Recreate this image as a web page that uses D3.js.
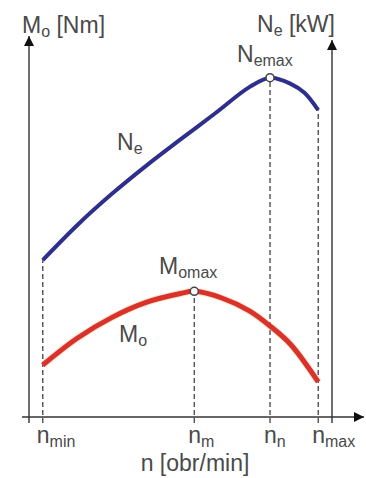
<!DOCTYPE html>
<html>
<head>
<meta charset="utf-8">
<script src="https://cdn.jsdelivr.net/npm/d3@7"></script>
<style>
  body { margin: 0; background: #fff; }
  svg { display: block; }
  text { font-family: "Liberation Sans", Arial, Helvetica, sans-serif; fill: #4a4a4a; }
</style>
</head>
<body>
<svg id="chart" width="366" height="478"></svg>
<script>
// Engine speed samples [rpm] and torque Mo [Nm]
const torqueSpeed = [800, 1300, 1800, 2300, 2800, 3000, 3400, 3800, 4100, 4400, 4800];
const torqueMo    = [41.4, 62.7, 79.1, 91.2, 98.3, 100, 94.7, 84.4, 72.4, 57.7, 27.9];

// Engine speed samples [rpm] and effective power Ne [kW]
const powerSpeed = [800, 1300, 1800, 2300, 2800, 3300, 3800, 4100, 4400, 4600, 4800];
const powerNe    = [33.3, 40.7, 47.3, 53.3, 58.9, 64.4, 70.0, 72.0, 70.7, 68.8, 65.1];

// Characteristic speeds marked on the n axis
const tickSpeeds = [800, 3000, 4100, 4800];
const tickSubs   = ["min", "m", "n", "max"];
const tickCurve  = ["Ne", "Mo", "Ne", "Ne"];   // curve each guide line rises to

const svg = d3.select("#chart");

const x   = d3.scaleLinear().domain([600, 5000]).range([29, 332]);
const yMo = d3.scaleLinear().domain([0, 300]).range([417, 40]);
const yNe = d3.scaleLinear().domain([0, 80]).range([417, 40]);

const torque = torqueSpeed.map((n, i) => ({ n, v: torqueMo[i] }));
const power  = powerSpeed.map((n, i) => ({ n, v: powerNe[i] }));

const defs = svg.append("defs");
defs.append("marker")
  .attr("id", "arrow").attr("viewBox", "0 0 10 10")
  .attr("refX", 10).attr("refY", 5)
  .attr("markerUnits", "userSpaceOnUse")
  .attr("markerWidth", 16).attr("markerHeight", 10)
  .attr("orient", "auto")
  .append("path").attr("d", "M0,0 L10,5 L0,10 Z").attr("fill", "#111");

const axisColor = "#333";
const y0 = yMo(0);
const below = 6;

// guide lines from each characteristic speed up to its curve
function valueAt(series, n) {
  const d = series.find(p => p.n === n);
  return d ? d.v : null;
}
tickSpeeds.forEach((n, i) => {
  const top = tickCurve[i] === "Ne" ? yNe(valueAt(power, n)) : yMo(valueAt(torque, n));
  svg.append("line")
    .attr("x1", x(n)).attr("x2", x(n))
    .attr("y1", y0 + below).attr("y2", top)
    .attr("stroke", "#444").attr("stroke-width", 1.3)
    .attr("stroke-dasharray", "5,3");
});

// axes
svg.append("line")
  .attr("x1", x(600)).attr("x2", x(600))
  .attr("y1", y0 + below).attr("y2", yMo(300) - 4)
  .attr("stroke", axisColor).attr("stroke-width", 1.4)
  .attr("marker-end", "url(#arrow)");
svg.append("line")
  .attr("x1", x(5000)).attr("x2", x(5000))
  .attr("y1", y0 + below).attr("y2", yNe(80))
  .attr("stroke", axisColor).attr("stroke-width", 1.4)
  .attr("marker-end", "url(#arrow)");
svg.append("line")
  .attr("x1", x(600) - 7).attr("x2", 364)
  .attr("y1", y0).attr("y2", y0)
  .attr("stroke", axisColor).attr("stroke-width", 1.4)
  .attr("marker-end", "url(#arrow)");

// curves
const lineMo = d3.line().x(d => x(d.n)).y(d => yMo(d.v)).curve(d3.curveCatmullRom.alpha(0.5));
const lineNe = d3.line().x(d => x(d.n)).y(d => yNe(d.v)).curve(d3.curveCatmullRom.alpha(0.5));

svg.append("path").datum(torque)
  .attr("d", lineMo).attr("fill", "none")
  .attr("stroke", "#f0b36a").attr("stroke-width", 7).attr("opacity", 0.35);
svg.append("path").datum(torque)
  .attr("d", lineMo).attr("fill", "none")
  .attr("stroke", "#d9312b").attr("stroke-width", 5);

svg.append("path").datum(power)
  .attr("d", lineNe).attr("fill", "none")
  .attr("stroke", "#2e2f8c").attr("stroke-width", 4);

// maximum markers
const moMax = torque[d3.maxIndex(torque, d => d.v)];
const neMax = power[d3.maxIndex(power, d => d.v)];
[[x(moMax.n), yMo(moMax.v)], [x(neMax.n), yNe(neMax.v)]].forEach(([cx, cy]) => {
  svg.append("circle").attr("cx", cx).attr("cy", cy).attr("r", 4)
    .attr("fill", "#fff").attr("stroke", "#444").attr("stroke-width", 1.5);
});

// text with subscript
function label(tx, ty, main, sub, rest, size, subSize, anchor) {
  const t = svg.append("text").attr("x", tx).attr("y", ty)
    .attr("font-size", size).attr("text-anchor", anchor || "start");
  t.append("tspan").text(main);
  t.append("tspan").attr("font-size", subSize).attr("dy", 4).text(sub);
  if (rest) t.append("tspan").attr("dy", -4).text(rest);
  return t;
}

label(22, 33, "M", "o", " [Nm]", 23, 16);
label(257, 32, "N", "e", " [kW]", 23, 16);
label(237, 62, "N", "emax", null, 23, 16);
label(159, 274, "M", "omax", null, 23, 16);
label(117, 150, "N", "e", null, 23, 16);
label(119, 342, "M", "o", null, 23, 16);

tickSpeeds.forEach((n, i) => {
  label(x(n) - 6, 443, "n", tickSubs[i], null, 23, 16);
});

svg.append("text")
  .attr("x", 195).attr("y", 471)
  .attr("text-anchor", "middle").attr("font-size", 23)
  .text("n [obr/min]");
</script>
</body>
</html>
